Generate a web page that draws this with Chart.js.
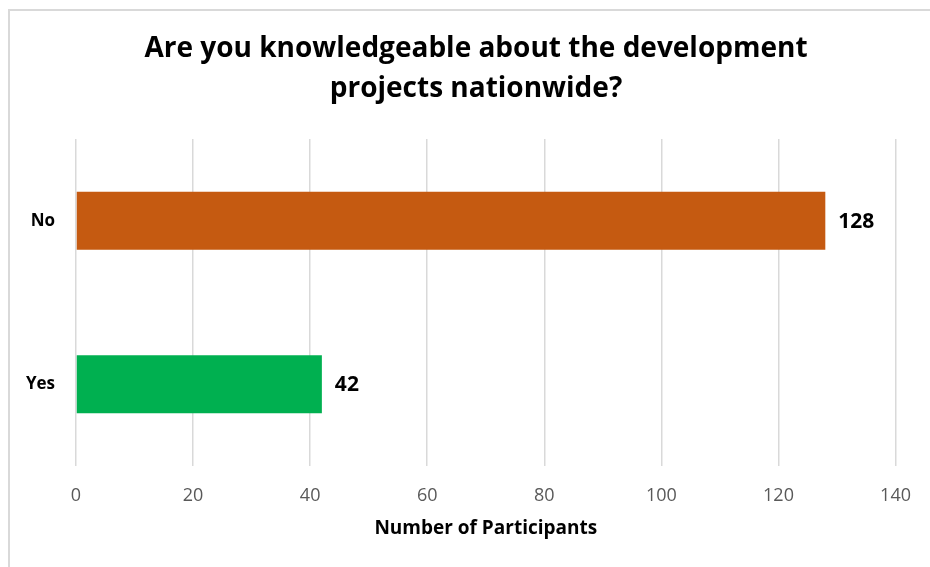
<!DOCTYPE html>
<html>
<head>
<meta charset="utf-8">
<script src="https://cdn.jsdelivr.net/npm/chart.js@4"></script>
<style>
  html, body { margin: 0; padding: 0; background: #fff; overflow: hidden; }
  .frame {
    position: absolute; left: 8px; top: 9px; width: 980px; height: 620px;
    border: 2px solid #d9d9d9;
  }
  #chart { position: absolute; left: 0; top: 0; }
</style>
</head>
<body>
<div class="frame"></div>
<canvas id="chart" width="930" height="567"></canvas>
<script>
const titleLines = ["Are you knowledgeable about the development", "projects nationwide?"];
const answers = ["No", "Yes"];
const participants = [128, 42];
const barColors = ["#C55A11", "#00B050"];
const xTicks = [0, 20, 40, 60, 80, 100, 120, 140];

const FONT = "'Open Sans', sans-serif";

// value labels just past the end of each bar
const barLabels = {
  id: "barLabels",
  afterDatasetsDraw(chart) {
    const { ctx } = chart;
    const meta = chart.getDatasetMeta(0);
    ctx.save();
    ctx.font = "bold 21px " + FONT;
    ctx.fillStyle = "#000";
    ctx.textAlign = "left";
    ctx.textBaseline = "middle";
    meta.data.forEach((bar, i) => {
      ctx.fillText(participants[i], bar.x + 13, bar.y + 1);
    });
    ctx.restore();
  },
};

new Chart(document.getElementById("chart"), {
  type: "bar",
  data: {
    labels: answers,
    datasets: [
      {
        data: participants,
        backgroundColor: barColors,
        borderWidth: 0,
        barPercentage: 1,
        categoryPercentage: 0.355,
      },
    ],
  },
  options: {
    indexAxis: "y",
    responsive: false,
    animation: false,
    layout: { padding: { left: 22, right: 0, top: 0, bottom: 27 } },
    plugins: {
      legend: { display: false },
      tooltip: { enabled: false },
      title: {
        display: true,
        text: titleLines,
        color: "#000",
        font: { family: FONT, size: 28, weight: "bold", lineHeight: 1.43 },
        padding: { top: 29, bottom: 30 },
      },
    },
    scales: {
      x: {
        min: 0,
        max: 140,
        afterBuildTicks(scale) {
          scale.ticks = xTicks.map((v) => ({ value: v }));
        },
        afterFit(scale) {
          scale.height = 74;
        },
        grid: { color: "#d9d9d9", lineWidth: 1.5, drawTicks: false },
        border: { display: false },
        ticks: {
          color: "#595959",
          padding: 19,
          font: { family: FONT, size: 18 },
        },
        title: {
          display: true,
          text: "Number of Participants",
          color: "#000",
          font: { family: FONT, size: 19, weight: "bold", lineHeight: 1.2 },
          padding: { top: 10, bottom: 0 },
        },
      },
      y: {
        afterFit(scale) {
          scale.width = 54;
        },
        grid: { display: false, drawTicks: false },
        border: { display: false },
        ticks: {
          color: "#000",
          padding: 21,
          font: { family: FONT, size: 17, weight: "bold" },
        },
      },
      // empty right-hand axis: keeps the plot clear of the right edge
      yRight: {
        type: "category",
        position: "right",
        afterFit(scale) {
          scale.width = 31.5;
        },
        grid: { display: false, drawTicks: false },
        border: { display: false },
        ticks: { display: false },
      },
    },
  },
  plugins: [barLabels],
});
</script>
</body>
</html>
